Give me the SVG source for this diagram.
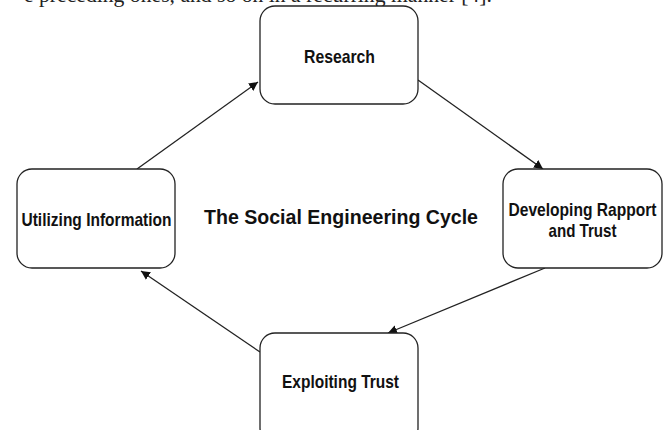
<svg xmlns="http://www.w3.org/2000/svg" width="670" height="430" viewBox="0 0 670 430">
<style>
.box{fill:#fff;stroke:#222;stroke-width:1.3}
.lbl{font-family:"Liberation Sans",Arial,sans-serif;font-weight:bold;font-size:19px;fill:#111;text-anchor:middle}
.ttl{font-size:20px}
.con{stroke:#222;stroke-width:1.3;fill:none;marker-end:url(#ah)}
.top{font-family:"Liberation Serif","Times New Roman",serif;font-size:20px;fill:#222}
</style>
<defs>
<marker id="ah" viewBox="0 0 10 10" refX="10" refY="5" markerWidth="9" markerHeight="9" markerUnits="userSpaceOnUse" orient="auto">
<path d="M0,0 L10,5 L0,10 z" fill="#111"/>
</marker>
</defs>
<rect width="670" height="430" fill="#fff"/>
<text class="top" x="24" y="1.5" textLength="468" lengthAdjust="spacingAndGlyphs">e preceding ones, and so on in a recurring manner [4].</text>
<g id="connectors">
<line class="con" x1="137" y1="169" x2="258" y2="82"/>
<line class="con" x1="418" y1="80" x2="543" y2="169"/>
<line class="con" x1="545" y1="268" x2="388" y2="333"/>
<line class="con" x1="260" y1="352" x2="141" y2="271"/>
</g>
<g id="research">
<rect class="box" x="260" y="6" width="158" height="98" rx="15"/>
<text class="lbl" x="339.5" y="63" textLength="71" lengthAdjust="spacingAndGlyphs">Research</text>
</g>
<g id="rapport">
<rect class="box" x="503" y="169" width="159" height="99" rx="15"/>
<text class="lbl" x="582.5" y="216" textLength="148" lengthAdjust="spacingAndGlyphs">Developing Rapport</text>
<text class="lbl" x="582.5" y="237" textLength="68" lengthAdjust="spacingAndGlyphs">and Trust</text>
</g>
<g id="utilizing">
<rect class="box" x="17" y="169" width="158" height="99" rx="15"/>
<text class="lbl" x="96.5" y="226" textLength="150" lengthAdjust="spacingAndGlyphs">Utilizing Information</text>
</g>
<g id="exploiting">
<rect class="box" x="260" y="333" width="158" height="110" rx="15"/>
<text class="lbl" x="340.5" y="388" textLength="117" lengthAdjust="spacingAndGlyphs">Exploiting Trust</text>
</g>
<g id="title">
<text class="lbl ttl" x="341" y="224" textLength="274" lengthAdjust="spacingAndGlyphs">The Social Engineering Cycle</text>
</g>
</svg>
